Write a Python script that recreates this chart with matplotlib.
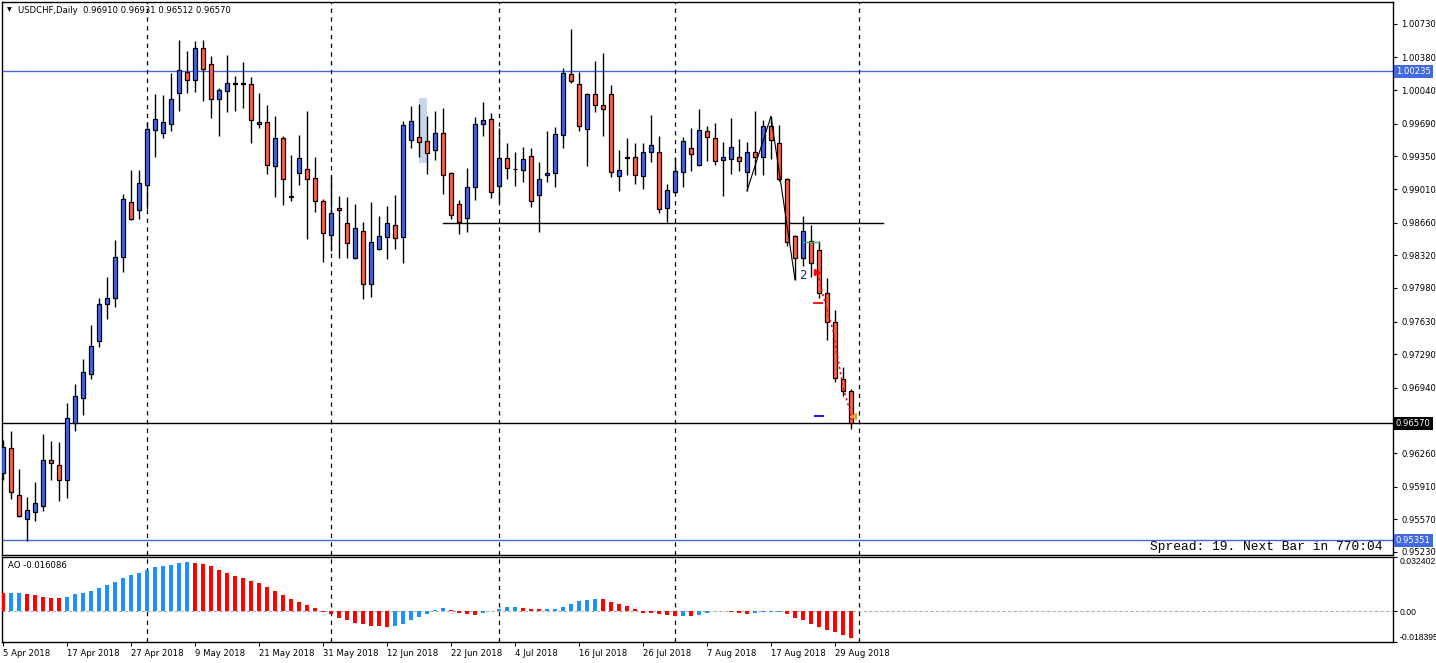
import matplotlib
matplotlib.use("Agg")
import matplotlib.pyplot as plt
import matplotlib.transforms as mtransforms
import numpy as np

# ---------------- data ----------------
opens = [0.96052, 0.96316, 0.95820, 0.95570, 0.95651, 0.95714, 0.96183, 0.96140, 0.95975, 0.96577,
         0.96834, 0.97080, 0.97422, 0.97809, 0.97873, 0.98299, 0.98872, 0.98788, 0.99048, 0.99622,
         0.99591, 0.99682, 1.00006, 1.00224, 1.00140, 1.00474, 1.00309, 0.99943, 1.00027, 1.00108,
         1.00108, 1.00101, 0.99682, 0.99703, 0.99246, 0.99538, 0.98932, 0.99172, 0.99214, 0.99122,
         0.98890, 0.98527, 0.98809, 0.98651, 0.98288, 0.98570, 0.98017, 0.98390, 0.98506, 0.98640,
         0.98506, 0.99517, 0.99548, 0.99506, 0.99411, 0.99591, 0.99172, 0.98851, 0.98703, 0.99027,
         0.99682, 0.99735, 0.99038, 0.99330, 0.99223, 0.99203, 0.99351, 0.98943, 0.99151, 0.99172,
         0.99569, 1.00203, 1.00101, 0.99633, 0.99995, 0.99883, 0.99995, 0.99143, 0.99339, 0.99341,
         0.99143, 0.99393, 0.99393, 0.98812, 0.98974, 0.99182, 0.99432, 0.99256, 0.99612, 0.99538,
         0.99309, 0.99319, 0.99341, 0.99182, 0.99400, 0.99341, 0.99661, 0.99485, 0.99112, 0.98517,
         0.98288, 0.98464, 0.98372, 0.97932, 0.97626, 0.97031, 0.96910]
highs = [0.96394, 0.96485, 0.96095, 0.95799, 0.95954, 0.96457, 0.96383, 0.96376, 0.96778, 0.96975,
         0.97239, 0.97591, 0.97873, 0.98094, 0.98475, 0.98953, 0.99207, 0.99207, 0.99703, 0.99999,
         0.99988, 1.00217, 1.00559, 1.00446, 1.00552, 1.00559, 1.00393, 1.00066, 1.00404, 1.00182,
         1.00333, 1.00172, 1.00010, 0.99890, 0.99767, 0.99562, 0.99365, 0.99573, 0.99823, 0.99344,
         0.98911, 0.99140, 0.98936, 0.98925, 0.98855, 0.98665, 0.98876, 0.98728, 0.98834, 0.98946,
         0.99717, 0.99876, 0.99893, 0.99770, 0.99823, 0.99855, 0.99189, 0.98893, 0.99228, 0.99760,
         0.99914, 0.99802, 0.99643, 0.99488, 0.99393, 0.99446, 0.99436, 0.99291, 0.99615, 0.99654,
         1.00267, 1.00675, 1.00228, 1.00010, 1.00344, 1.00425, 1.00094, 0.99415, 0.99541, 0.99488,
         0.99488, 0.99777, 0.99562, 0.99059, 0.99334, 0.99548, 0.99647, 0.99841, 0.99665, 0.99696,
         0.99499, 0.99746, 0.99531, 0.99496, 0.99823, 0.99731, 0.99767, 0.99675, 0.99122, 0.98531,
         0.98728, 0.98640, 0.98464, 0.98087, 0.97749, 0.97154, 0.96931]
lows = [0.95975, 0.95778, 0.95595, 0.95345, 0.95549, 0.95658, 0.95982, 0.95764, 0.95795, 0.96492,
        0.96658, 0.97028, 0.97362, 0.97658, 0.97784, 0.98147, 0.98690, 0.98693, 0.98805, 0.99348,
        0.99545, 0.99619, 0.99827, 1.00013, 1.00024, 0.99929, 0.99753, 0.99562, 0.99816, 0.99827,
        0.99855, 0.99492, 0.99643, 0.99168, 0.98929, 0.98848, 0.98890, 0.99055, 0.98492, 0.98774,
        0.98253, 0.98369, 0.98295, 0.98295, 0.98285, 0.97869, 0.97890, 0.98379, 0.98284, 0.98390,
        0.98242, 0.99439, 0.99348, 0.99168, 0.99316, 0.98960, 0.98700, 0.98545, 0.98566, 0.98900,
        0.99566, 0.98918, 0.98872, 0.99119, 0.99045, 0.99087, 0.98827, 0.98566, 0.99087, 0.99034,
        0.99439, 1.00119, 0.99619, 0.99253, 0.99816, 0.99566, 0.99140, 0.98992, 0.99158, 0.99066,
        0.99013, 0.99291, 0.98763, 0.98665, 0.98970, 0.99034, 0.99200, 0.99253, 0.99298, 0.99263,
        0.98939, 0.99168, 0.99196, 0.98992, 0.99151, 0.99151, 0.99319, 0.99098, 0.98418, 0.98066,
        0.98207, 0.98094, 0.97873, 0.97439, 0.97003, 0.96852, 0.96512]
closes = [0.96327, 0.95852, 0.95602, 0.95672, 0.95742, 0.96193, 0.96161, 0.95975, 0.96623, 0.96852,
          0.97101, 0.97380, 0.97809, 0.97880, 0.98299, 0.98911, 0.98693, 0.99070, 0.99640, 0.99742,
          0.99703, 0.99943, 1.00245, 1.00140, 1.00474, 1.00256, 0.99943, 1.00038, 1.00112, 1.00110,
          1.00106, 0.99731, 0.99703, 0.99256, 0.99538, 0.99112, 0.98926, 0.99330, 0.99112, 0.98890,
          0.98548, 0.98756, 0.98788, 0.98443, 0.98601, 0.98017, 0.98453, 0.98517, 0.98661, 0.98496,
          0.99672, 0.99714, 0.99496, 0.99383, 0.99591, 0.99151, 0.98735, 0.98668, 0.99027, 0.99682,
          0.99724, 0.98974, 0.99330, 0.99224, 0.99219, 0.99319, 0.98883, 0.99112, 0.99172, 0.99580,
          1.00214, 1.00133, 0.99661, 0.99995, 0.99883, 0.99841, 0.99182, 0.99203, 0.99335, 0.99151,
          0.99400, 0.99464, 0.98798, 0.98996, 0.99193, 0.99506, 0.99372, 0.99622, 0.99548, 0.99298,
          0.99341, 0.99443, 0.99298, 0.99400, 0.99341, 0.99661, 0.99517, 0.99112, 0.98453, 0.98288,
          0.98570, 0.98235, 0.97932, 0.97626, 0.97038, 0.96911, 0.96570]

ao_values = [0.01100, 0.01106, 0.01116, 0.01036, 0.00976, 0.00857, 0.00807, 0.00797, 0.00857, 0.01036,
             0.01096, 0.01215, 0.01394, 0.01574, 0.01753, 0.01992, 0.02171, 0.02311, 0.02470, 0.02649,
             0.02709, 0.02769, 0.02888, 0.02948, 0.02888, 0.02829, 0.02709, 0.02470, 0.02291, 0.02112,
             0.01992, 0.01813, 0.01693, 0.01454, 0.01215, 0.00976, 0.00737, 0.00558, 0.00378, 0.00199,
             -0.00020, -0.00159, -0.00398, -0.00518, -0.00697, -0.00757, -0.00876, -0.00896, -0.00936, -0.00876,
             -0.00757, -0.00518, -0.00339, -0.00159, 0.00060, 0.00199, 0.00080, -0.00080, -0.00159, -0.00219,
             -0.00080, 0.00020, 0.00139, 0.00259, 0.00269, 0.00199, 0.00139, 0.00129, 0.00139, 0.00149,
             0.00259, 0.00438, 0.00618, 0.00677, 0.00737, 0.00727, 0.00558, 0.00438, 0.00319, 0.00139,
             -0.00080, -0.00100, -0.00159, -0.00219, -0.00279, -0.00259, -0.00279, -0.00219, -0.00080, 0.00020,
             0.00010, -0.00020, -0.00100, -0.00159, -0.00080, -0.00070, -0.00060, -0.00050, -0.00159, -0.00398,
             -0.00518, -0.00757, -0.00936, -0.01115, -0.01235, -0.01414, -0.016086]

date_labels = ["5 Apr 2018", "17 Apr 2018", "27 Apr 2018", "9 May 2018", "21 May 2018",
               "31 May 2018", "12 Jun 2018", "22 Jun 2018", "4 Jul 2018", "16 Jul 2018",
               "26 Jul 2018", "7 Aug 2018", "17 Aug 2018", "29 Aug 2018"]
date_label_bars = [0, 8, 16, 24, 32, 40, 48, 56, 64, 72, 80, 88, 96, 104]
month_separator_bars = [18, 41, 62, 84, 107]

price_ticks = [1.00730, 1.00380, 1.00040, 0.99690, 0.99350, 0.99010, 0.98660, 0.98320,
               0.97980, 0.97630, 0.97290, 0.96940, 0.96260, 0.95910, 0.95570, 0.95230]
hline_blue = [1.00235, 0.95351]
bid_price = 0.96570
support_level = 0.98661
support_from_bar, support_to_bar = 55, 110
ao_max, ao_min = 0.032402, -0.018395

# drawn objects near the end of the chart
zigzag_bars = [93, 96, 99]
zigzag_prices = [0.98992, 0.99767, 0.98066]
dotted_bars = [101.9, 102.4, 103.1, 103.75, 104.4, 105.0, 105.9, 106.1]
dotted_prices = [0.98135, 0.97937, 0.97719, 0.97542, 0.97229, 0.96948, 0.96688, 0.96604]
rect_bars = (52, 53)
rect_prices = (0.99284, 0.99958)

# ---------------- style ----------------
BULL = "#4169E1"
BEAR = "#FF6347"
AO_UP = "#1E90FF"
AO_DN = "#FF0000"
FONT = "DejaVu Sans"
FS = 6.1
plt.rcParams["font.family"] = FONT

W, H = 1436, 663
fig = plt.figure(figsize=(W / 100, H / 100), dpi=100)
fig.patch.set_facecolor("white")

def fx(px):
    return px / W

def fy(py):
    return 1 - py / H

x_left_px, x_right_px = 2, 1393
main_top, main_bot = 2, 555
ao_top, ao_bot = 557, 642
ax = fig.add_axes([fx(x_left_px), fy(main_bot), fx(x_right_px - x_left_px), (main_bot - main_top) / H])
ax2 = fig.add_axes([fx(x_left_px), fy(ao_bot), fx(x_right_px - x_left_px), (ao_bot - ao_top) / H], sharex=ax)

n = len(opens)
x = np.arange(n)
xmin = (x_left_px - 3) / 8.0
xmax = (x_right_px - 3) / 8.0
ax.set_xlim(xmin, xmax)

price_top = 1.00770 + (20 - main_top) * 1.0414e-4
price_bot = 1.00770 - (main_bot - 20) * 1.0414e-4
ax.set_ylim(price_bot, price_top)

# background rectangle object
ax.fill_between(rect_bars, rect_prices[0], rect_prices[1], color="#C9D7EA", lw=0, zorder=0.5)

# horizontal lines
for p in hline_blue:
    ax.axhline(p, color=BULL, lw=1.0, zorder=1)
ax.axhline(bid_price, color="black", lw=1.0, zorder=1)
ax.plot([support_from_bar, support_to_bar], [support_level, support_level], color="black", lw=1.0, zorder=1)

# separators
for b in month_separator_bars:
    for a in (ax, ax2):
        a.axvline(b, color="black", lw=0.9, linestyle=(0, (3.5, 3.5)), zorder=1)

# candles
o = np.array(opens); h = np.array(highs); l = np.array(lows); c = np.array(closes)
bull = c >= o
ax.vlines(x, l, h, color="black", lw=1.0, zorder=2)
body_bottom = np.minimum(o, c)
body_h = np.maximum(np.abs(c - o), 0.00004)
colors = [BULL if b else BEAR for b in bull]
ax.bar(x, body_h, bottom=body_bottom, width=0.55, color=colors, edgecolor="black", linewidth=0.9, zorder=3)

# drawings
ax.plot(zigzag_bars, zigzag_prices, color="black", lw=0.8, zorder=4)
ax.plot(dotted_bars, dotted_prices, color="red", lw=1.1, linestyle=(0, (1.5, 2)), zorder=4)
ax.plot([100, 102], [0.98461, 0.98461], color="#3CB371", lw=1.0, zorder=4)
ax.plot([101.75], [0.98146], marker=">", color="red", ms=4, zorder=5)
ax.plot([101.9], [0.97823], marker="_", color="red", ms=7, mew=1.3, zorder=5)
ax.plot([102.0], [0.96646], marker="_", color="blue", ms=7, mew=1.3, zorder=5)
ax.plot([106.3], [0.96646], marker="<", color="#E8A33D", ms=5, zorder=5)
ax.text(99.96, 0.98114, "2", fontsize=8.5, color="#1F2A5A", ha="center", va="center", zorder=6)

# spines
for a in (ax, ax2):
    for s in a.spines.values():
        s.set_color("black")
        s.set_linewidth(1.0)
    a.set_facecolor("white")

# price axis
ax.yaxis.tick_right()
ax.set_yticks(price_ticks)
ax.set_yticklabels([f"{p:.5f}" for p in price_ticks])
ax.tick_params(axis="y", which="both", direction="out", length=3, width=0.8, pad=3,
               labelsize=FS, colors="black")
ax.tick_params(axis="x", which="both", bottom=False, labelbottom=False, top=False)

trans = mtransforms.blended_transform_factory(ax.transAxes, ax.transData)
box_x = 1 + 3 / (x_right_px - x_left_px)
for p, col in [(hline_blue[0], BULL), (hline_blue[1], BULL), (bid_price, "black")]:
    ax.text(box_x, p, f"{p:.5f}", transform=trans, ha="left", va="center", fontsize=FS,
            color="white", bbox=dict(facecolor=col, edgecolor="none", pad=1.3), zorder=10, clip_on=False)

# title & info texts
ax.text(5 / (x_right_px - x_left_px), 1 - 8 / (main_bot - main_top), "\u25BC", transform=ax.transAxes,
        fontsize=4.5, ha="left", va="center")
ax.text(16 / (x_right_px - x_left_px), 1 - 8.5 / (main_bot - main_top),
        f"USDCHF,Daily  {opens[-1]:.5f} {highs[-1]:.5f} {lows[-1]:.5f} {closes[-1]:.5f}",
        transform=ax.transAxes, fontsize=FS, ha="left", va="center")
ax.text((1383 - x_left_px) / (x_right_px - x_left_px), 1 - (547 - main_top) / (main_bot - main_top),
        "Spread: 19. Next Bar in 770:04", transform=ax.transAxes, fontsize=9.3,
        family="Liberation Mono", ha="right", va="center")

# AO panel
ao = np.array(ao_values)
ao_colors = [AO_DN] + [AO_UP if ao[i] > ao[i - 1] else AO_DN for i in range(1, n)]
ax2.bar(x, ao, width=0.38, color=ao_colors, linewidth=0, zorder=3)
ax2.axhline(0, color="#B0B0B0", lw=0.8, linestyle=(0, (3, 2)), zorder=2)
ax2.set_ylim(ao_min, ao_max)
ax2.yaxis.tick_right()
ax2.set_yticks([ao_max, 0.0, ao_min])
ax2.set_yticklabels([f"{ao_max:.6f}", "0.00", f"{ao_min:.6f}"])
ax2.tick_params(axis="y", direction="out", length=3, width=0.8, pad=2, labelsize=6.2)
labs = ax2.get_yticklabels()
for t in labs:
    t.set_family("Liberation Sans")
labs[0].set_va("top")
labs[2].set_va("bottom")
ax2.text(6 / (x_right_px - x_left_px), 1 - 9 / (ao_bot - ao_top), f"AO {ao_values[-1]:.6f}",
         transform=ax2.transAxes, fontsize=FS, ha="left", va="center")

ax2.set_xticks(date_label_bars)
ax2.set_xticklabels(date_labels)
ax2.tick_params(axis="x", direction="out", length=3, width=0.8, pad=2, labelsize=FS)
for t in ax2.get_xticklabels():
    t.set_ha("left")

fig.savefig("out.png", dpi=100, facecolor="white")
